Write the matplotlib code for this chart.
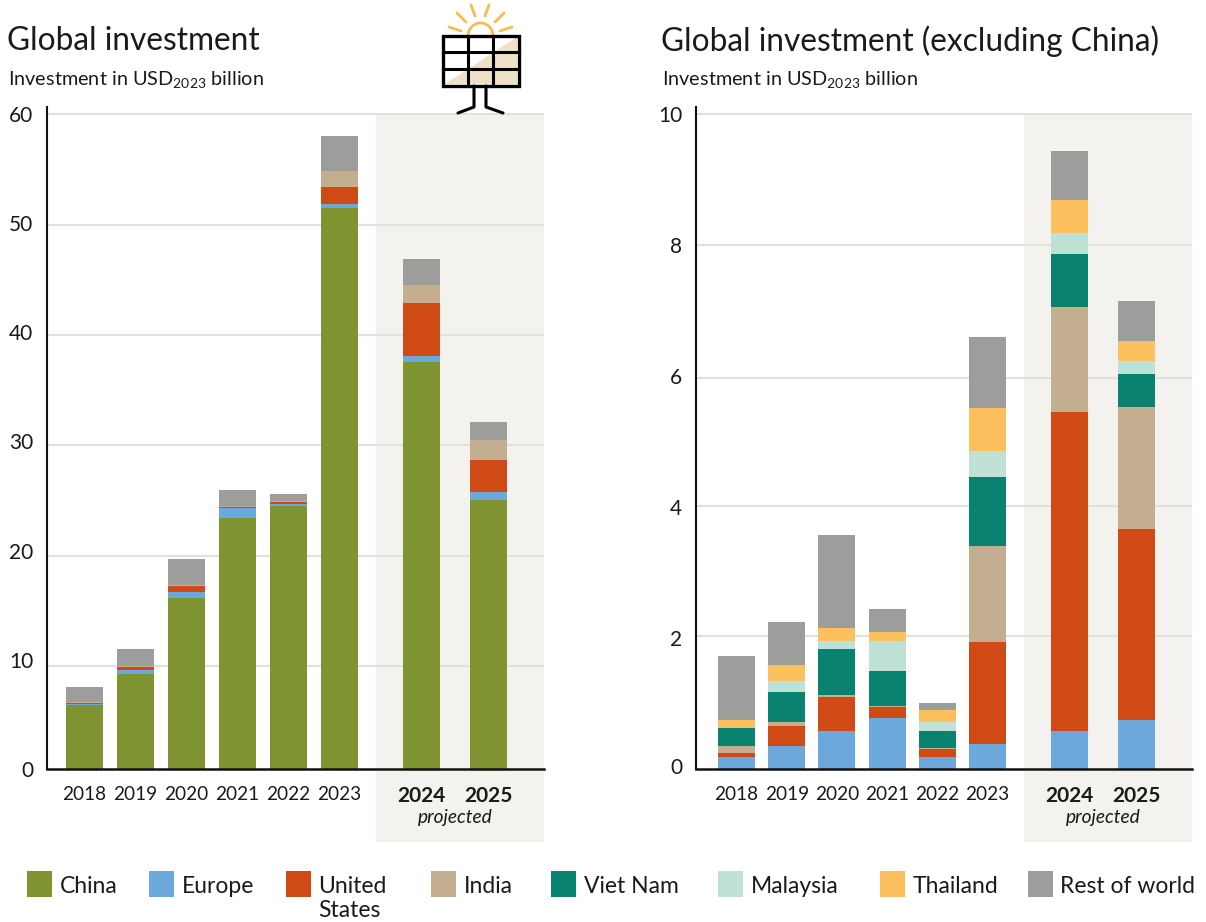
import numpy as np
import matplotlib
matplotlib.use("Agg")
import matplotlib.pyplot as plt
from matplotlib.patches import Rectangle, Polygon, Arc
from matplotlib.transforms import ScaledTranslation

plt.rcParams["font.family"] = ["Lato", "DejaVu Sans"]
plt.rcParams["mathtext.fontset"] = "custom"
plt.rcParams["mathtext.rm"] = "Lato"
plt.rcParams["mathtext.default"] = "regular"

years = ["2018", "2019", "2020", "2021", "2022", "2023", "2024", "2025"]

# Left panel, USD2023 billion
left_china = [5.86, 8.70, 15.66, 22.98, 24.08, 51.37, 37.27, 24.63]
left_europe = [0.09, 0.37, 0.55, 0.92, 0.19, 0.37, 0.55, 0.74]
left_us = [0.09, 0.27, 0.55, 0.10, 0.18, 1.56, 4.85, 2.93]
left_india = [0.10, 0.09, 0.09, 0.08, 0.09, 1.46, 1.65, 1.83]
left_rest = [1.37, 1.57, 2.38, 1.47, 0.64, 3.21, 2.38, 1.65]
left_ticks = [0, 10, 20, 30, 40, 50, 60]
left_grid = [9.43, 19.5, 29.67, 39.74, 49.8, 60]

# Right panel, excluding China
right_europe = [0.18, 0.35, 0.58, 0.78, 0.18, 0.38, 0.58, 0.75]
right_us = [0.06, 0.31, 0.52, 0.17, 0.13, 1.56, 4.87, 2.91]
right_india = [0.11, 0.06, 0.03, 0.01, 0.01, 1.46, 1.60, 1.87]
right_vietnam = [0.28, 0.46, 0.70, 0.54, 0.26, 1.06, 0.81, 0.50]
right_malaysia = [0.00, 0.16, 0.12, 0.45, 0.14, 0.39, 0.32, 0.20]
right_thailand = [0.12, 0.25, 0.20, 0.14, 0.18, 0.66, 0.51, 0.30]
right_rest = [0.98, 0.65, 1.42, 0.35, 0.11, 1.09, 0.75, 0.62]
right_ticks = [0, 2, 4, 6, 8, 10]
right_grid = [2.03, 4.02, 5.97, 8.0, 10]

legend_names = ["China", "Europe", "United\nStates", "India", "Viet Nam", "Malaysia", "Thailand", "Rest of world"]
colors = {"China": "#7f9430", "Europe": "#6ca8db", "United\nStates": "#cf4a14", "India": "#c3ae8f",
          "Viet Nam": "#0a8270", "Malaysia": "#c0e1d6", "Thailand": "#fdc05f", "Rest of world": "#9d9d9b"}

W, H = 1206, 922
TEXT = "#1a1a1a"
SHADE = "#f3f2ee"
GRID = "#e0e0dd"


def make_axes(fig, x0, x1, y_top, y_bottom):
    return fig.add_axes([x0 / W, 1 - y_bottom / H, (x1 - x0) / W, (y_bottom - y_top) / H])


def panel(fig, ax, series, ticks, grid, top, shade_bottom, shade_left, x, xlim, width, zero_shift):
    ax.set_xlim(*xlim)
    ax.set_ylim(0, top)
    ax.add_patch(Rectangle((shade_left, shade_bottom), xlim[1] - shade_left, ticks[-1] - shade_bottom,
                           color=SHADE, lw=0, clip_on=False, zorder=0))
    ax.hlines(grid, xlim[0], xlim[1], color=GRID, lw=1.5, zorder=1)

    bottom = np.zeros(len(years))
    for name, values in series:
        ax.bar(x, values, width=width, bottom=bottom, color=colors[name], zorder=2, lw=0)
        bottom += np.array(values)

    for side in ["top", "right"]:
        ax.spines[side].set_visible(False)
    for side in ["left", "bottom"]:
        ax.spines[side].set_color("#111111")
        ax.spines[side].set_zorder(5)
    ax.spines["left"].set_linewidth(1.5)
    ax.spines["bottom"].set_linewidth(1.8)

    ax.set_yticks(ticks)
    ax.tick_params(axis="y", length=0, pad=10, labelsize=15, labelcolor=TEXT)
    ax.set_xticks(x)
    ax.set_xticklabels(years)
    ax.tick_params(axis="x", length=0, pad=12, labelsize=13.7, labelcolor=TEXT)
    for label in ax.get_xticklabels()[6:]:
        label.set_fontweight("bold")
        label.set_fontsize(15)

    # The 0 label on the right panel sits a little above the baseline
    zero = ax.get_yticklabels()[0]
    zero.set_transform(zero.get_transform() + ScaledTranslation(0, zero_shift / 100, fig.dpi_scale_trans))

    ax.text((x[6] + x[7]) / 2, shade_bottom * 0.67, "projected", style="italic", fontsize=13.8, color=TEXT,
            ha="center", va="center")


def draw_icon(ov):
    ov.add_patch(Polygon([(445, 84), (517, 37), (517, 84)], color="#f0e0c8", lw=0))
    ov.add_patch(Arc((480.5, 36), 25, 26, theta1=180, theta2=360, color="#fdbb4f", lw=2))
    rays = [(449, 27, 461, 31), (457, 13, 466, 22), (471, 5, 475, 16), (489, 5, 485, 16),
            (504, 13, 495, 22), (512, 27, 500, 31)]
    for x0, y0, x1, y1 in rays:
        ov.plot([x0, x1], [y0, y1], color="#fdbb4f", lw=2, solid_capstyle="round")
    ov.add_patch(Rectangle((442.5, 36), 76, 50, fill=False, ec="black", lw=2.4))
    for xv in [467.5, 493]:
        ov.plot([xv, xv], [36, 86], color="black", lw=2.2)
    for yv in [52, 69]:
        ov.plot([442.5, 518.5], [yv, yv], color="black", lw=2.2)
    ov.plot([474, 474, 458], [86, 107, 113], color="black", lw=2.2, solid_capstyle="round")
    ov.plot([486, 486, 503], [86, 107, 113], color="black", lw=2.2, solid_capstyle="round")


def create_image():
    fig = plt.figure(figsize=(W / 100, H / 100), dpi=100)

    # Bars are evenly spaced, the projected years sit further right
    x_left = np.arange(len(years), dtype=float)
    x_left[6:] += 0.6
    x_left[7] += 0.33
    x_right = x_left.copy()
    x_right[6] += 0.03
    x_right[7] += 0.04

    ax1 = make_axes(fig, 47, 544, 107, 769)
    panel(fig, ax1, [("China", left_china), ("Europe", left_europe), ("United\nStates", left_us),
                     ("India", left_india), ("Rest of world", left_rest)],
          left_ticks, left_grid, 60.62, -6.68, 5.716, x_left, (-0.735, 9.01), 0.725, 0)

    ax2 = make_axes(fig, 696, 1192, 107, 769)
    panel(fig, ax2, [("Europe", right_europe), ("United\nStates", right_us), ("India", right_india),
                     ("Viet Nam", right_vietnam), ("Malaysia", right_malaysia), ("Thailand", right_thailand),
                     ("Rest of world", right_rest)],
          right_ticks, right_grid, 10.107, -1.115, 5.727, x_right, (-0.807, 9.073), 0.737, 3)

    # Overlay in pixel coordinates for titles, icon and the unevenly spaced legend
    ov = fig.add_axes([0, 0, 1, 1], zorder=10)
    ov.set_xlim(0, W)
    ov.set_ylim(H, 0)
    ov.axis("off")

    for x0, title in [(7, "Global investment"), (661, "Global investment (excluding China)")]:
        ov.text(x0, 41, title, fontsize=22.8, color=TEXT, va="center")
        ov.text(x0 + 1, 80, "Investment in USD$_{2023}$ billion", fontsize=14.3, color=TEXT, va="center")

    draw_icon(ov)

    swatch_x = [27, 149, 286, 431, 551, 718, 880, 1028]
    for xs, name in zip(swatch_x, legend_names):
        ov.add_patch(Rectangle((xs, 871), 25, 26, color=colors[name], lw=0))
        ov.text(xs + 32.5, 876, name, fontsize=16.5, color=TEXT, va="top", linespacing=1.2)

    fig.savefig("out.png", dpi=100)
    plt.close(fig)


create_image()
